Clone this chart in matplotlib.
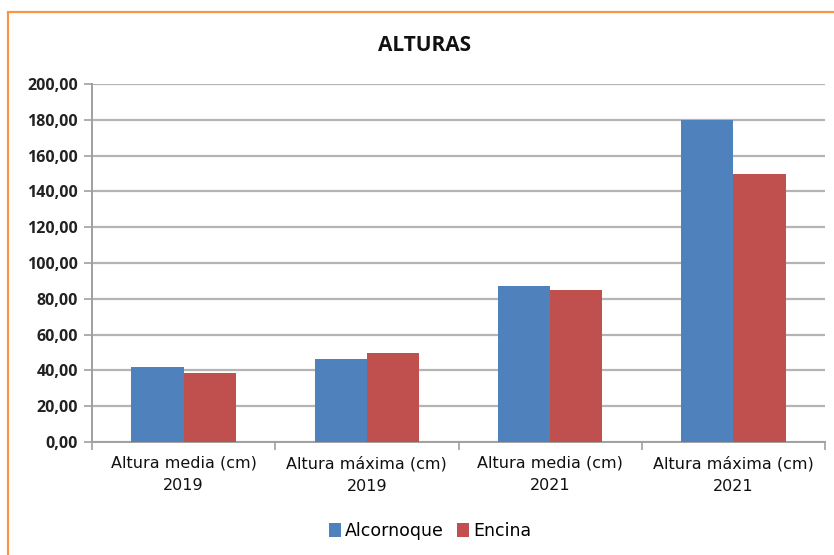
import matplotlib
matplotlib.use("Agg")
import matplotlib.pyplot as plt
from matplotlib.patches import Rectangle, Patch
import numpy as np

categories = ["Altura media (cm)\n2019", "Altura máxima (cm)\n2019",
              "Altura media (cm)\n2021", "Altura máxima (cm)\n2021"]
series_names = ["Alcornoque", "Encina"]
alcornoque = [42.1, 46.2, 86.9, 179.9]
encina = [38.4, 49.6, 85.0, 150.0]
colors = ["#4F81BD", "#C0504D"]
yticks = [0, 20, 40, 60, 80, 100, 120, 140, 160, 180, 200]

W, H = 834, 555
fig = plt.figure(figsize=(W/100, H/100), dpi=100)
fig.patch.set_facecolor("white")

# orange chart border
fig.patches.append(Rectangle((7.5/W, -0.05), 1.2, (H-12)/H + 0.05, transform=fig.transFigure,
                             fill=False, edgecolor="#F79646", linewidth=1.6, zorder=0))

ax = fig.add_axes([92/W, 1-442/H, (825-92)/W, (442-84)/H])
x = np.arange(len(categories))
bw = 0.285
ax.bar(x - bw/2, alcornoque, bw, color=colors[0], label=series_names[0], zorder=3)
ax.bar(x + bw/2, encina, bw, color=colors[1], label=series_names[1], zorder=3)

ax.set_xlim(-0.5, len(categories) - 0.5)
ax.set_ylim(0, 200)
ax.set_yticks(yticks)
ax.set_yticklabels([f"{v:.2f}".replace(".", ",") for v in yticks],
                   fontsize=11.5, fontweight="bold", color="#222222", family="Open Sans")
ax.yaxis.grid(True, color="#B4B4B4", linewidth=1.6, zorder=0)
ax.set_axisbelow(True)

ax.set_xticks(np.arange(len(categories) + 1) - 0.5, minor=False)
ax.set_xticklabels([])
ax.set_xticks(x, minor=True)
ax.set_xticklabels(categories, minor=True, fontsize=11.5, color="#111111",
                   family="Liberation Sans Narrow", linespacing=1.6)
ax.tick_params(axis="x", which="minor", length=0, pad=10)
ax.tick_params(axis="x", which="major", length=6, color="#A0A0A0", width=1.2)
ax.tick_params(axis="y", length=6, color="#A0A0A0", width=1.2, pad=4)

for s in ["top", "right"]:
    ax.spines[s].set_visible(False)
for s in ["left", "bottom"]:
    ax.spines[s].set_color("#A0A0A0")
    ax.spines[s].set_linewidth(1.4)

fig.text(425/W, 1-45/H, "ALTURAS", ha="center", va="center", fontsize=15,
         fontweight="bold", family="Open Sans", color="#111111")

handles = [Patch(facecolor=colors[0]), Patch(facecolor=colors[1])]
fig.legend(handles, series_names, loc="center", bbox_to_anchor=(430/W, 1-531/H), ncol=2,
           frameon=False, handlelength=0.7, handleheight=0.9, handletextpad=0.2,
           columnspacing=0.8, prop={"family": "Liberation Sans Narrow", "size": 12.5})

fig.savefig("out.png", dpi=100, facecolor="white")
